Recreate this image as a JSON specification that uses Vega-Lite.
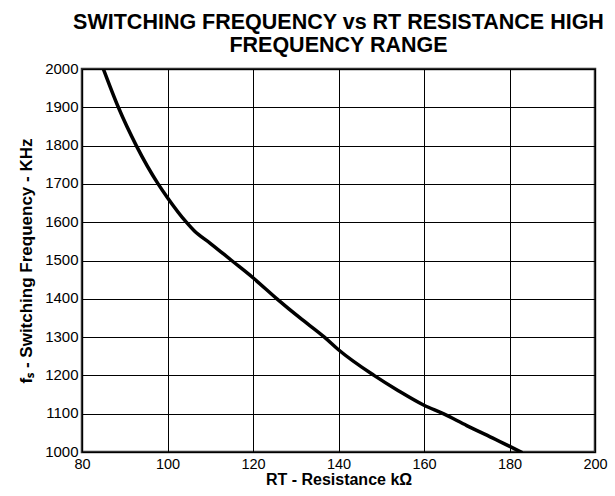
{
  "$schema": "https://vega.github.io/schema/vega-lite/v6.json",
  "autosize": "none",
  "width": 513,
  "height": 383,
  "padding": {"left": 82, "top": 69, "right": 20, "bottom": 44},
  "background": "white",
  "title": {
    "text": ["SWITCHING FREQUENCY vs RT RESISTANCE HIGH", "FREQUENCY RANGE"],
    "font": "Liberation Sans",
    "fontSize": 21.5,
    "fontWeight": "bold",
    "color": "black",
    "anchor": "middle",
    "frame": "group",
    "lineHeight": 23,
    "offset": 5
  },
  "config": {
    "view": {"stroke": "#333333", "strokeWidth": 2.5},
    "axis": {
      "labelFont": "Liberation Sans",
      "labelFontSize": 15,
      "labelColor": "black",
      "titleFont": "Liberation Sans",
      "titleFontSize": 17,
      "titleFontWeight": "bold",
      "titleColor": "black",
      "gridColor": "black",
      "gridOpacity": 1,
      "gridWidth": 1,
      "ticks": false,
      "domain": false
    }
  },
  "data": {
    "values": [
      {"rt": 85, "fs": 2000},
      {"rt": 88.5, "fs": 1900},
      {"rt": 92.7, "fs": 1800},
      {"rt": 97.8, "fs": 1700},
      {"rt": 100, "fs": 1664},
      {"rt": 104.4, "fs": 1600},
      {"rt": 106.3, "fs": 1577},
      {"rt": 110, "fs": 1545},
      {"rt": 115, "fs": 1500},
      {"rt": 120, "fs": 1455},
      {"rt": 125.6, "fs": 1400},
      {"rt": 131, "fs": 1350},
      {"rt": 136.7, "fs": 1300},
      {"rt": 140, "fs": 1267},
      {"rt": 148.3, "fs": 1200},
      {"rt": 154, "fs": 1160},
      {"rt": 160, "fs": 1122},
      {"rt": 164.5, "fs": 1100},
      {"rt": 170, "fs": 1069},
      {"rt": 176, "fs": 1037},
      {"rt": 183, "fs": 998}
    ]
  },
  "mark": {"type": "line", "color": "black", "strokeWidth": 3.5, "interpolate": "monotone", "clip": true},
  "encoding": {
    "x": {
      "field": "rt", "type": "quantitative",
      "scale": {"domain": [80, 200], "nice": false, "zero": false},
      "axis": {"values": [80, 100, 120, 140, 160, 180, 200], "format": "d", "title": "RT - Resistance kΩ", "labelFontSize": 14.5, "titleFontSize": 16, "labelPadding": 5, "titlePadding": 1, "labelFlush": false}
    },
    "y": {
      "field": "fs", "type": "quantitative",
      "scale": {"domain": [1000, 2000], "nice": false, "zero": false},
      "axis": {"values": [1000, 1100, 1200, 1300, 1400, 1500, 1600, 1700, 1800, 1900, 2000], "format": "d", "title": "fₛ - Switching Frequency - KHz", "labelPadding": 4, "labelOffset": -1, "titlePadding": 9, "labelFlush": false}
    }
  }
}
